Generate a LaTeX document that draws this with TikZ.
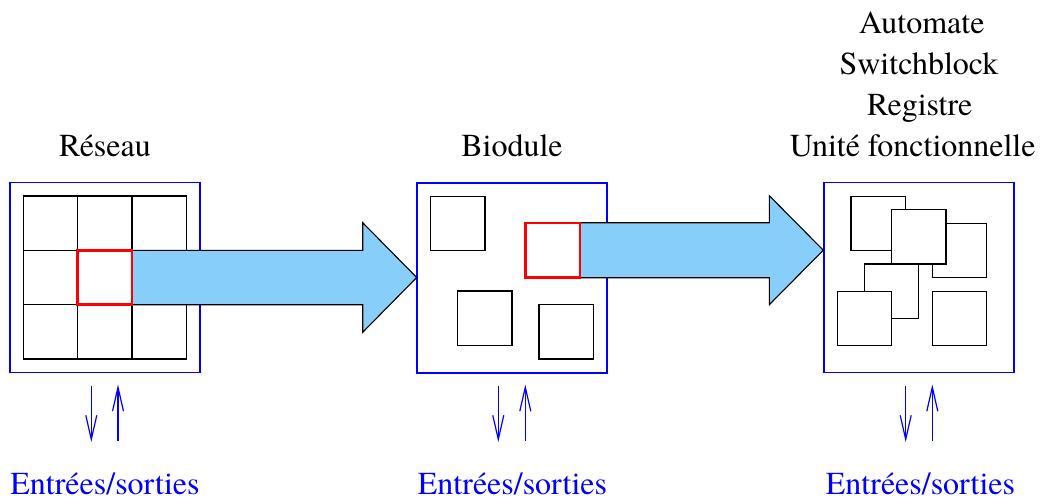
\documentclass[tikz,border=0pt]{standalone}
\usepackage{fontspec}
\setmainfont{texgyretermes}[Extension=.otf,UprightFont=*-regular]
\usetikzlibrary{arrows.meta}
\definecolor{skyb}{RGB}{135,206,250}
\begin{document}
\begin{tikzpicture}[x=1pt,y=-1pt,
  lbl/.style={anchor=base,inner sep=0pt,text depth=0pt,font=\fontsize{32}{38}\selectfont},
  io/.style={lbl,text=blue},
  frame/.style={draw=blue,line width=1.3pt,minimum size=190pt,inner sep=0pt},
  sq/.style={draw=black,fill=white,line width=1.4pt,minimum size=54.4pt,inner sep=0pt},
  redsq/.style={sq,draw=red,line width=2.4pt},
  big/.style={draw=black,fill=skyb,line width=1.1pt,line join=miter},
  ioarr/.style={draw=blue,line width=1.2pt,-{Straight Barb[length=24pt,width=11pt]}}]
\useasboundingbox (0,0) rectangle (1047,498);

% frames
\node[frame] (box1) at (105,277.3) {};
\node[frame] (box2) at (512,278) {};
\node[frame] (box3) at (919,277.5) {};

% panel 1 grid
\foreach \i/\x in {0/50.45,1/104.75,2/159.05}{
  \foreach \j/\y in {0/223.15,1/277.45,2/331.75}{
    \node[sq,minimum size=54.3pt] (g\i\j) at (\x,\y) {};
  }
}

% panel 2 squares
\node[sq] (p2a) at (457.7,223.4) {};
\node[sq] (p2b) at (484.9,318.2) {};
\node[sq] (p2c) at (566.2,331.9) {};

% panel 3 squares
\node[sq] (p3a) at (878.2,223.4) {};
\node[sq] (p3c) at (959.5,250.5) {};
\node[sq] (p3d) at (891.5,291.2) {};
\node[sq] (p3b) at (918.9,236.7) {};
\node[sq] (p3e) at (864.5,318.4) {};
\node[sq] (p3f) at (959.5,318.4) {};

% big arrows
\draw[big] (132,250.3) -- (362.7,250.3) -- (362.7,222.7) -- (416.7,277.5)
  -- (362.7,332.3) -- (362.7,304.7) -- (132,304.7) -- cycle;
\draw[big] (580.3,222.7) -- (769.3,222.7) -- (769.3,195.7) -- (823.3,250.2)
  -- (769.3,304.7) -- (769.3,277.7) -- (580.3,277.7) -- cycle;

% red squares
\node[redsq,minimum size=54.3pt] (r1) at (104.75,277.45) {};
\node[redsq] (r2) at (552.7,250.2) {};

% labels
\node[lbl] (t1) at (105,156.5) {Réseau};
\node[lbl] (t2) at (512,156.5) {Biodule};
\node[lbl] (t3a) at (921.8,33.3) {Automate};
\node[lbl] (t3b) at (919,74.3) {Switchblock};
\node[lbl] (t3c) at (919.7,115.5) {Registre};
\node[lbl] (t3d) at (912.7,156.7) {Unité fonctionnelle};

% I/O
\node[io] (io1) at (105,494) {Entrées/sorties};
\node[io] (io2) at (512.5,494) {Entrées/sorties};
\node[io] (io3) at (920.5,494) {Entrées/sorties};

\coordinate (d1s) at (91.3,386);  \coordinate (d1e) at (91.3,442);
\coordinate (u1s) at (118,441);   \coordinate (u1e) at (118,384.5);
\coordinate (d2s) at (498.3,386); \coordinate (d2e) at (498.3,442);
\coordinate (u2s) at (525.3,441); \coordinate (u2e) at (525.3,384.5);
\coordinate (d3s) at (905.7,386); \coordinate (d3e) at (905.7,442);
\coordinate (u3s) at (932.3,441); \coordinate (u3e) at (932.3,384.5);
\draw[ioarr] (d1s) -- (d1e);
\draw[ioarr] (u1s) -- (u1e);
\draw[ioarr] (d2s) -- (d2e);
\draw[ioarr] (u2s) -- (u2e);
\draw[ioarr] (d3s) -- (d3e);
\draw[ioarr] (u3s) -- (u3e);
\end{tikzpicture}
\end{document}
